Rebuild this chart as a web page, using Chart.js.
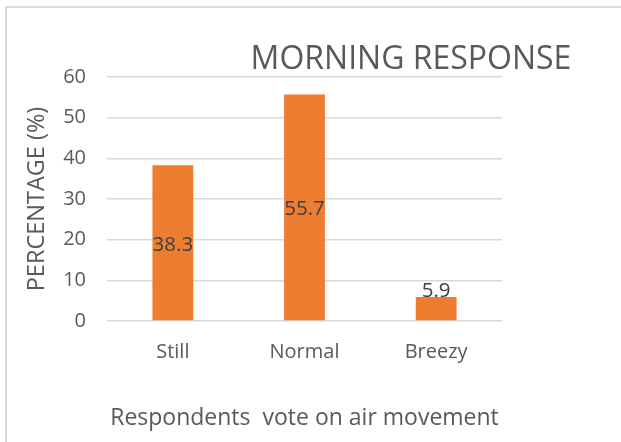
<!DOCTYPE html>
<html>
<head>
<meta charset="utf-8">
<script src="https://cdn.jsdelivr.net/npm/chart.js@4/dist/chart.umd.min.js"></script>
<style>
    html, body { margin: 0; padding: 0; background: #fff; }
    #wrap { width: 621px; height: 442px; position: relative; }
</style>
</head>
<body>
<div id="wrap"><canvas id="responseChart" width="621" height="442"></canvas></div>
<script>
const categories = ['Still', 'Normal', 'Breezy'];
const percentages = [38.3, 55.7, 5.9];
const yTicks = [0, 10, 20, 30, 40, 50, 60];

const FONT = "'Open Sans', sans-serif";

document.addEventListener('DOMContentLoaded', function() {
    // Frame, title and value labels
    const chartDecor = {
        id: 'chartDecor',
        beforeDraw(chart) {
            const ctx = chart.ctx;
            ctx.save();
            ctx.fillStyle = '#ffffff';
            ctx.fillRect(0, 0, chart.width, chart.height);
            ctx.strokeStyle = '#d9d9d9';
            ctx.lineWidth = 2;
            ctx.strokeRect(6, 7, chart.width + 20, chart.height + 20);
            ctx.restore();
        },
        afterDatasetsDraw(chart) {
            const ctx = chart.ctx;
            const meta = chart.getDatasetMeta(0);
            ctx.save();
            ctx.font = '20.5px ' + FONT;
            ctx.fillStyle = '#404040';
            ctx.textAlign = 'center';
            ctx.textBaseline = 'middle';
            meta.data.forEach((bar, i) => {
                let y = (bar.y + bar.base) / 2 + 2;
                y = Math.min(y, bar.base - 29);
                ctx.fillText(String(percentages[i]), bar.x, y);
            });
            ctx.restore();
        },
        afterDraw(chart) {
            const ctx = chart.ctx;
            ctx.save();
            ctx.font = '32px ' + FONT;
            ctx.fillStyle = '#595959';
            ctx.textAlign = 'center';
            ctx.textBaseline = 'middle';
            ctx.fillText('MORNING RESPONSE', 411, 60);
            ctx.restore();
        }
    };

    const ctx = document.getElementById('responseChart').getContext('2d');
    const responseChart = new Chart(ctx, {
        type: 'bar',
        data: {
            labels: categories,
            datasets: [{
                label: 'Percentage',
                data: percentages,
                backgroundColor: '#ed7d31',
                borderWidth: 0,
                categoryPercentage: 1,
                barPercentage: 0.31
            }]
        },
        options: {
            responsive: false,
            animation: false,
            layout: {
                padding: { top: 77, right: 119, bottom: 0, left: 0 }
            },
            plugins: {
                legend: { display: false },
                tooltip: { enabled: false }
            },
            scales: {
                y: {
                    min: 0,
                    max: 60,
                    afterBuildTicks: axis => {
                        axis.ticks = yTicks.map(v => ({ value: v }));
                    },
                    afterFit: axis => { axis.width = 107; },
                    border: { display: false },
                    grid: { color: '#d9d9d9', lineWidth: 1.5, drawTicks: false },
                    ticks: {
                        color: '#595959',
                        font: { family: FONT, size: 20 },
                        padding: 21
                    },
                    title: {
                        display: true,
                        text: 'PERCENTAGE (%)',
                        color: '#595959',
                        font: { family: FONT, size: 23.5 },
                        padding: { top: 23, bottom: 0 }
                    }
                },
                x: {
                    afterFit: axis => { axis.height = 121; },
                    border: { display: false },
                    grid: { display: false, drawTicks: false },
                    ticks: {
                        color: '#595959',
                        font: { family: FONT, size: 20 },
                        padding: 19
                    },
                    title: {
                        display: true,
                        text: 'Respondents  vote on air movement',
                        color: '#595959',
                        font: { family: FONT, size: 23 },
                        padding: { top: 4, bottom: 10 }
                    }
                }
            }
        },
        plugins: [chartDecor]
    });
});
</script>
</body>
</html>
